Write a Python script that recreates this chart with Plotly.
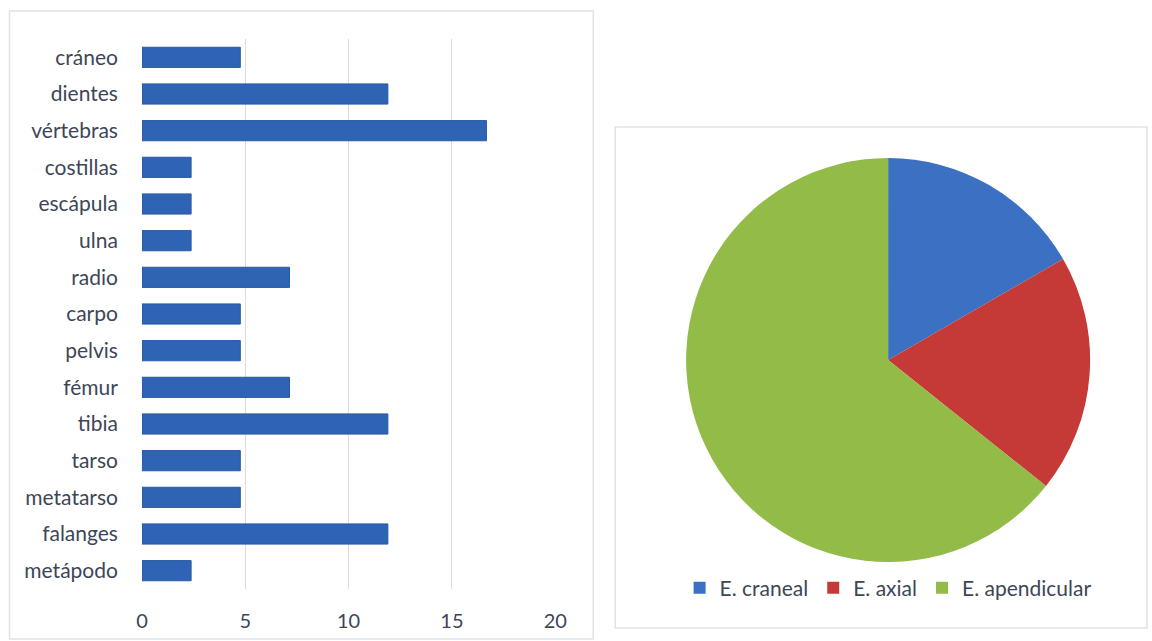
import plotly.graph_objects as go

# ---- data ----
bones = ["cráneo", "dientes", "vértebras", "costillas", "escápula", "ulna", "radio",
         "carpo", "pelvis", "fémur", "tibia", "tarso", "metatarso", "falanges", "metápodo"]
bone_pct = [4.76, 11.9, 16.67, 2.38, 2.38, 2.38, 7.14,
            4.76, 4.76, 7.14, 11.9, 4.76, 4.76, 11.9, 2.38]
x_ticks = [0, 5, 10, 15, 20]

regions = ["E. craneal", "E. axial", "E. apendicular"]
region_pct = [16.67, 19.05, 64.28]
region_colors = ["#3b70c2", "#c53a36", "#92bb48"]

W, H = 1152, 641
TXT = "#3d4657"
FONT = "Lato"

# horizontal placement calibrated against the rendered capture
X0, XW = 7.5, 1134.5


def px(x):
    return (x - X0) / XW


def py(y):
    return 1 - y / H


fig = go.Figure()

fig.add_trace(go.Bar(
    y=bones, x=bone_pct, orientation="h",
    marker=dict(color="#2f63b3", line=dict(color="#2a5aa3", width=1)),
    width=0.55, showlegend=False, xaxis="x", yaxis="y",
))

fig.add_trace(go.Pie(
    labels=regions, values=region_pct, sort=False, direction="clockwise",
    rotation=0, textinfo="none", hoverinfo="label+percent",
    marker=dict(colors=region_colors, line=dict(color="#ffffff", width=0)),
    domain=dict(x=[px(890 - 203), px(890 + 203)], y=[py(562), py(158)]),
    showlegend=True,
))

fig.update_layout(
    width=W, height=H,
    margin=dict(l=0, r=0, t=0, b=0),
    paper_bgcolor="white", plot_bgcolor="white",
    font=dict(family=FONT, color=TXT, size=21),
    xaxis=dict(domain=[px(143.5), px(557)], range=[0, 20], tickvals=x_ticks,
               showgrid=True, gridcolor="#dcdcdc", gridwidth=1,
               zeroline=False, showline=False, ticks="",
               ticklabelstandoff=18, tickfont=dict(size=20, color=TXT),
               anchor="y", fixedrange=True),
    yaxis=dict(domain=[py(589), py(39)], autorange="reversed",
               showgrid=False, zeroline=False, showline=False, ticks="",
               ticklabelstandoff=23, tickfont=dict(size=21, color=TXT),
               anchor="x", fixedrange=True),
    legend=dict(orientation="h", x=px(890), xanchor="center", y=py(588), yanchor="middle",
                font=dict(size=21, color=TXT), itemwidth=30, traceorder="normal",
                bgcolor="rgba(0,0,0,0)"),
    shapes=[
        dict(type="rect", xref="paper", yref="paper",
             x0=px(11), x1=px(595), y0=py(639), y1=py(11),
             line=dict(color="#dfe3e6", width=1.5), fillcolor="rgba(0,0,0,0)", layer="below"),
        dict(type="rect", xref="paper", yref="paper",
             x0=px(617), x1=px(1149), y0=py(628), y1=py(127),
             line=dict(color="#dfe3e6", width=1.5), fillcolor="rgba(0,0,0,0)", layer="below"),
    ],
)

fig.write_html(
    "out.html",
    config={"displayModeBar": False, "responsive": False},
    post_script=(
        "document.documentElement.style.overflow='hidden';"
        "document.body.style.margin='0';"
        "document.body.style.overflow='hidden';"
    ),
)
